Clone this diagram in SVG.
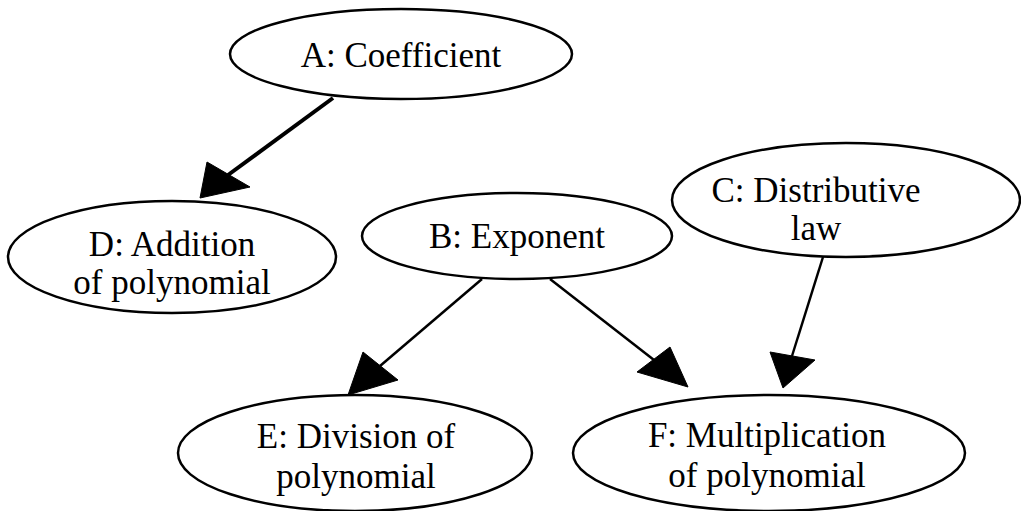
<svg xmlns="http://www.w3.org/2000/svg" width="1021" height="511" viewBox="0 0 1021 511">
<style>
.node ellipse{fill:#fff;stroke:#000;stroke-width:2.5}
.node text{font-family:"Liberation Serif","Times New Roman",serif;font-size:35px;fill:#000;text-anchor:middle}
.edge line{stroke:#000;stroke-width:2.5}
.edge polygon{fill:#000;stroke:#000;stroke-width:1}
</style>
<rect width="1021" height="511" fill="#fff"/>
<g id="A" class="node"><ellipse cx="401" cy="54" rx="171" ry="45"/><text x="401" y="67">A: Coefficient</text></g>
<g id="D" class="node"><ellipse cx="172" cy="257" rx="164" ry="56"/><text x="172" y="256">D: Addition</text><text x="172" y="294">of polynomial</text></g>
<g id="B" class="node"><ellipse cx="517" cy="236" rx="155" ry="43"/><text x="517" y="248">B: Exponent</text></g>
<g id="C" class="node"><ellipse cx="846" cy="200" rx="174" ry="57"/><text x="816" y="202">C: Distributive</text><text x="816" y="240">law</text></g>
<g id="E" class="node"><ellipse cx="355" cy="453" rx="177" ry="58"/><text x="356" y="448">E: Division of</text><text x="356" y="488">polynomial</text></g>
<g id="F" class="node"><ellipse cx="769" cy="453" rx="196" ry="58"/><text x="767" y="447">F: Multiplication</text><text x="767" y="487">of polynomial</text></g>
<g id="connectors" class="edge">
<line x1="333" y1="98" x2="228" y2="175" style="stroke-width:4"/>
<polygon points="200,198 207,162 250,187"/>
<line x1="482" y1="279" x2="380" y2="366"/>
<polygon points="348,395 363,352 398,380"/>
<line x1="550" y1="279" x2="654" y2="360"/>
<polygon points="688,387 637,372 670,347"/>
<line x1="823" y1="257" x2="792" y2="356"/>
<polygon points="783,388 770,352 815,360"/>
</g>
</svg>
